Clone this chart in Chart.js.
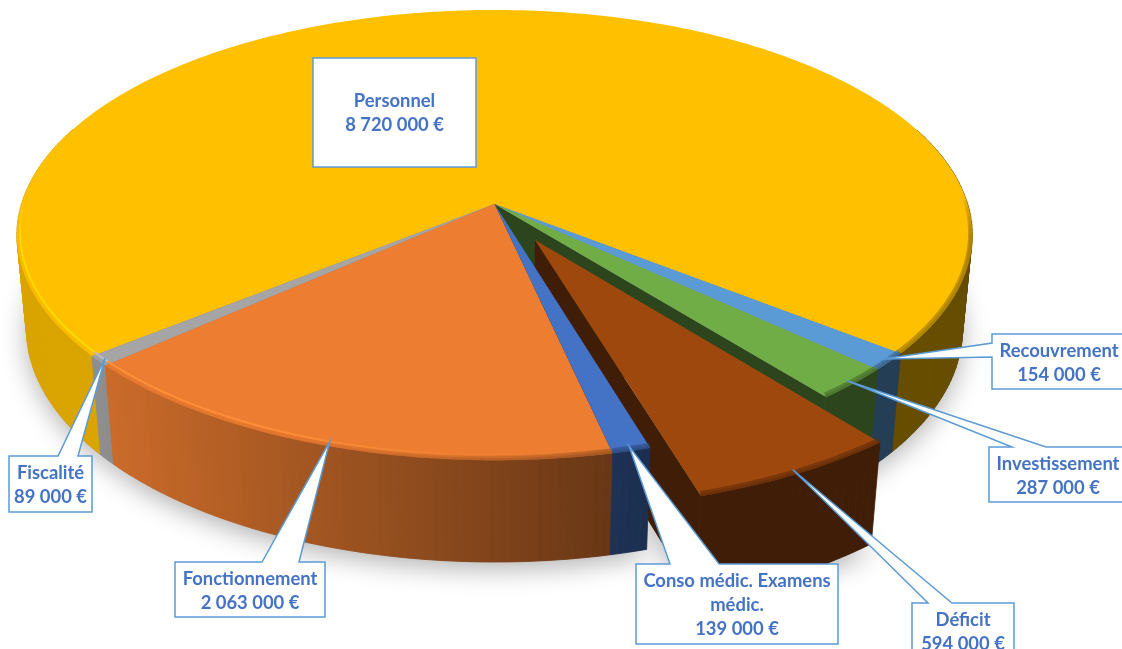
<!DOCTYPE html>
<html lang="fr">
<head>
<meta charset="utf-8">
<title>Répartition des charges</title>
<script src="https://cdn.jsdelivr.net/npm/chart.js@4/dist/chart.umd.js"></script>
<style>
    html, body { margin: 0; padding: 0; background: #ffffff; overflow: hidden; }
    canvas { display: block; }
</style>
</head>
<body>
<canvas id="pieChart" width="1122" height="649"></canvas>
<script>
// --- Data ---
const categories = ['Personnel', 'Recouvrement', 'Investissement', 'Déficit', 'Conso médic. Examens médic.', 'Fonctionnement', 'Fiscalité'];
// Déficit: its slice in the picture is about 22 degrees wide, which is near 750 000, although its label prints 594 000 €
const amounts = [8720000, 154000, 287000, 750000, 139000, 2063000, 89000];
const printedAmounts = ['8 720 000 €', '154 000 €', '287 000 €', '594 000 €', '139 000 €', '2 063 000 €', '89 000 €'];

// --- Styles ---
const sliceColors = ['#FFC000', '#5B9BD5', '#70AD47', '#9E480E', '#4472C4', '#ED7D31', '#A5A5A5'];
const sliceOffsets = [0, 0, 0, 172, 0, 0, 0];
const paintOrder = [0, 1, 2, 3, 6, 5, 4];
const labelBoxes = [
    { x: 313, y: 58, w: 163, h: 109, base: null },
    { x: 992, y: 334, w: 140, h: 55, side: 'left', base: [343, 357], textX: 1059 },
    { x: 989, y: 447, w: 140, h: 55, side: 'top', base: [1012, 1046], textX: 1058 },
    { x: 912, y: 603, w: 102, h: 60, side: 'top', base: [928, 952] },
    { x: 636, y: 564, w: 202, h: 80, side: 'top', base: [670, 719] },
    { x: 175, y: 562, w: 150, h: 55, side: 'top', base: [262, 299] },
    { x: 9, y: 456, w: 83, h: 56, side: 'top', base: [58, 78] }
];

// Perspective camera of the disc
const view = { cx: 494.5, cy: 204, rx: 473, ry: 220.8, depth: 95, k: 0.138, m: 0.02 };
const STEP = Math.PI / 180;

function project(u, v, z) {
    const s = 1 / (1 - view.k * v + view.m * z);
    return { x: view.cx + view.rx * u * s, y: view.cy + (view.ry * v + view.depth * z) * s };
}

function hexToRgb(hex) {
    const n = parseInt(hex.slice(1), 16);
    return [(n >> 16) & 255, (n >> 8) & 255, n & 255];
}

function rgbStr(c, alpha) {
    const a = alpha === undefined ? 1 : alpha;
    return `rgba(${c.map(p => Math.round(Math.min(255, p))).join(',')},${a})`;
}

// The walls get darker from left to right
function shadeAt(x) {
    if (x < 100) return 0.86;
    if (x > 660) return 0.4;
    return 0.86 - (x - 100) / 560 * 0.46;
}

function clamp01(t) {
    return Math.max(0, Math.min(1, t));
}

function sliceGeometry(arc) {
    const mid = (arc.startAngle + arc.endAngle) / 2;
    const shift = (arc.options.offset || 0) / 4 / arc.outerRadius;
    return { start: arc.startAngle, end: arc.endAngle, mid: mid, ox: shift * Math.cos(mid), oy: shift * Math.sin(mid) };
}

function rimPoint(g, angle, r, z) {
    return project(g.ox + r * Math.cos(angle), g.oy + r * Math.sin(angle), z);
}

function angleSteps(g) {
    const n = Math.max(2, Math.ceil((g.end - g.start) / STEP));
    const list = [];
    for (let i = 0; i <= n; i++) {
        list.push(g.start + (g.end - g.start) * i / n);
    }
    return list;
}

function tracePoints(ctx, points) {
    ctx.beginPath();
    points.forEach((p, i) => i === 0 ? ctx.moveTo(p.x, p.y) : ctx.lineTo(p.x, p.y));
    ctx.closePath();
}

function drawGroundShadow(ctx, geos) {
    ctx.save();
    ctx.shadowColor = 'rgba(0,0,0,0.3)';
    ctx.shadowBlur = 26;
    ctx.shadowOffsetY = 7;
    ctx.fillStyle = '#888888';
    geos.forEach(g => {
        const pts = [project(g.ox, g.oy, 1)];
        angleSteps(g).forEach(a => pts.push(rimPoint(g, a, 1, 1)));
        tracePoints(ctx, pts);
        ctx.fill();
    });
    ctx.restore();
}

function drawWall(ctx, g, rgb) {
    const angles = angleSteps(g);
    for (let i = 0; i < angles.length - 1; i++) {
        const a = angles[i], b = angles[i + 1];
        if (Math.sin(a) < -0.35 && Math.sin(b) < -0.35) continue;
        const quad = [rimPoint(g, a, 1, 0), rimPoint(g, b, 1, 0), rimPoint(g, b, 1, 1), rimPoint(g, a, 1, 1)];
        const shade = (g.ox || g.oy) ? 0.4 : shadeAt((quad[0].x + quad[1].x) / 2);
        const col = rgbStr(rgb.map(p => p * shade));
        tracePoints(ctx, quad);
        ctx.fillStyle = col;
        ctx.strokeStyle = col;
        ctx.lineWidth = 0.8;
        ctx.fill();
        ctx.stroke();
    }
}

function drawEndFace(ctx, g, rgb) {
    const pts = [project(g.ox, g.oy, 0), rimPoint(g, g.end, 1, 0), rimPoint(g, g.end, 1, 1), project(g.ox, g.oy, 1)];
    tracePoints(ctx, pts);
    ctx.fillStyle = rgbStr(rgb.map(p => p * 0.4));
    ctx.fill();
}

function drawTop(ctx, g, rgb) {
    const pts = [project(g.ox, g.oy, 0)];
    angleSteps(g).forEach(a => pts.push(rimPoint(g, a, 1, 0)));
    tracePoints(ctx, pts);
    ctx.fillStyle = rgbStr(rgb);
    ctx.fill();
}

function strokeSegment(ctx, p0, p1, color, width) {
    ctx.strokeStyle = color;
    ctx.lineWidth = width;
    ctx.beginPath();
    ctx.moveTo(p0.x, p0.y);
    ctx.lineTo(p1.x, p1.y);
    ctx.stroke();
}

// Soft rounded edge where the top meets the wall
function drawBevel(ctx, g, rgb) {
    const angles = angleSteps(g);
    ctx.save();
    ctx.lineCap = 'butt';
    for (let i = 0; i < angles.length - 1; i++) {
        const a = angles[i], b = angles[i + 1];
        const vis = clamp01((Math.sin(a) + 0.05) / 0.2);
        if (vis <= 0) continue;
        const p0 = rimPoint(g, a, 0.997, 0), p1 = rimPoint(g, b, 0.997, 0);
        const shade = (g.ox || g.oy) ? 0.4 : shadeAt(p0.x);
        const dark = rgbStr(rgb.map(p => p * (0.4 + shade * 0.6)), vis * (0.15 + 0.5 * clamp01((p0.x - 300) / 300)));
        strokeSegment(ctx, p0, p1, dark, 2.5);
        strokeSegment(ctx, { x: p0.x, y: p0.y - 1.5 }, { x: p1.x, y: p1.y - 1.5 }, dark, 5);

        const glow = clamp01((640 - p0.x) / 380);
        if (glow > 0) {
            const h0 = rimPoint(g, a, 0.994, 0), h1 = rimPoint(g, b, 0.994, 0);
            h0.y -= 3;
            h1.y -= 3;
            strokeSegment(ctx, h0, h1, rgbStr(rgb.map(p => p * 1.14), vis * glow), 2);
        }
    }
    ctx.restore();
}

function wrapText(ctx, text, maxWidth) {
    const lines = [];
    let current = '';
    text.split(' ').forEach(word => {
        const test = current ? current + ' ' + word : word;
        if (current && ctx.measureText(test).width > maxWidth) {
            lines.push(current);
            current = word;
        } else {
            current = test;
        }
    });
    lines.push(current);
    return lines;
}

function drawLabel(ctx, box, g, name, printed) {
    const x2 = box.x + box.w, y2 = box.y + box.h;
    const pts = [];
    pts.push({ x: box.x, y: box.y });
    if (box.base && box.side === 'top') {
        const tip = rimPoint(g, g.mid, 0.985, 0);
        pts.push({ x: box.base[0], y: box.y }, tip, { x: box.base[1], y: box.y });
    }
    pts.push({ x: x2, y: box.y }, { x: x2, y: y2 }, { x: box.x, y: y2 });
    if (box.base && box.side === 'left') {
        const tip = rimPoint(g, g.mid, 0.985, 0);
        pts.push({ x: box.x, y: box.base[1] }, tip, { x: box.x, y: box.base[0] });
    }
    tracePoints(ctx, pts);
    ctx.fillStyle = '#ffffff';
    ctx.fill();
    ctx.strokeStyle = '#5B9BD5';
    ctx.lineWidth = 1.5;
    ctx.stroke();

    ctx.font = 'bold 18.4px Lato, "Open Sans", sans-serif';
    ctx.fillStyle = '#4472C4';
    ctx.textAlign = 'center';
    ctx.textBaseline = 'middle';
    const lines = wrapText(ctx, name, box.w - 8);
    lines.push(printed);
    const centerX = box.textX || box.x + box.w / 2;
    const lineHeight = 24;
    const firstY = box.y + Math.min(box.h, 56 + (lines.length - 2) * lineHeight) / 2 + (box.h > 100 ? (box.h - 56) / 2 - 1 : 0) - (lines.length - 1) * lineHeight / 2 + 1.5;
    lines.forEach((line, i) => ctx.fillText(line, centerX, firstY + i * lineHeight));
}

const pie3dPlugin = {
    id: 'pie3d',
    beforeDatasetsDraw(chart) {
        const ctx = chart.ctx;
        const arcs = chart.getDatasetMeta(0).data;
        const geos = arcs.map(sliceGeometry);
        ctx.save();
        drawGroundShadow(ctx, geos);
        paintOrder.forEach(i => {
            const rgb = hexToRgb(arcs[i].options.backgroundColor);
            const g = geos[i];
            drawWall(ctx, g, rgb);
            const next = arcs[(i + 1) % arcs.length];
            if (arcs[i].options.offset || next.options.offset) {
                drawEndFace(ctx, g, rgb);
            }
            drawTop(ctx, g, rgb);
            drawBevel(ctx, g, rgb);
        });
        ctx.restore();
        return false;
    },
    afterDraw(chart) {
        const geos = chart.getDatasetMeta(0).data.map(sliceGeometry);
        const ctx = chart.ctx;
        ctx.save();
        labelBoxes.forEach((box, i) => drawLabel(ctx, box, geos[i], categories[i], printedAmounts[i]));
        ctx.restore();
    }
};

new Chart(document.getElementById('pieChart').getContext('2d'), {
    type: 'pie',
    data: {
        labels: categories,
        datasets: [{
            data: amounts,
            backgroundColor: sliceColors,
            offset: sliceOffsets,
            borderWidth: 0
        }]
    },
    options: {
        responsive: false,
        animation: false,
        rotation: 231,
        plugins: {
            legend: { display: false },
            tooltip: { enabled: false },
            title: { display: false }
        }
    },
    plugins: [pie3dPlugin]
});
</script>
</body>
</html>
